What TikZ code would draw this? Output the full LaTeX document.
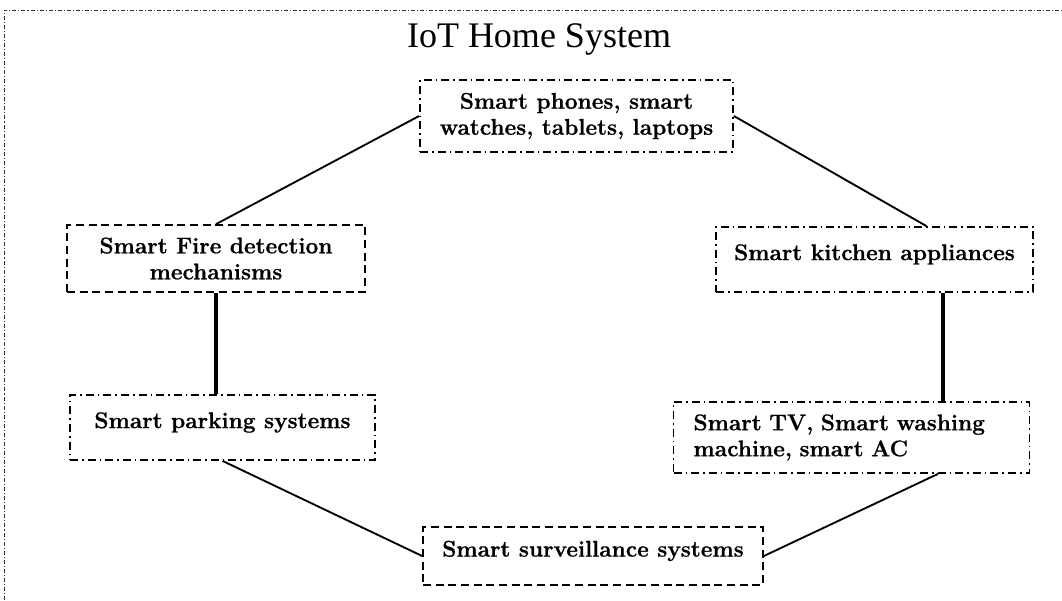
\documentclass[tikz,border=0pt]{standalone}
\usepackage{fontspec}
\setmainfont{Latin Modern Roman}[BoldFeatures={FakeBold=0.8}]
\newfontfamily\titlefont{Liberation Serif}
\usetikzlibrary{calc}
\tikzset{
  boxtext/.style={font=\fontsize{17}{19.5}\selectfont\bfseries, align=center, inner xsep=3pt, inner ysep=3pt},
  dashbox/.style={boxtext, draw, line width=1.3pt, dash pattern=on 6pt off 3.5pt},
  dotbox/.style={boxtext, draw, line width=1.3pt, dash pattern=on 6pt off 3pt on 1.2pt off 3pt},
  oneline/.style={text depth=11pt},
  link/.style={line width=1.4pt},
  thicklink/.style={line width=2.6pt},
  frame/.style={line width=0.6pt, black!80, dash pattern=on 3pt off 1.5pt on 0.8pt off 1.5pt}
}
\begin{document}
\begin{tikzpicture}[x=0.75pt,y=-0.75pt]
\useasboundingbox (0,0) rectangle (1062,600);
\coordinate (fbl) at (4,600);
\coordinate (ftl) at (4,10);
\coordinate (ftr) at (1062,10);
\draw[frame] (fbl) -- (ftl) -- (ftr);

\node[font=\titlefont\fontsize{27}{30}\selectfont] (title) at (539,39) {IoT Home System};

\node[dotbox, minimum width=234.75pt, minimum height=54pt] (top) at (576.5,116)
  {Smart phones, smart\\watches, tablets, laptops};
\node[dashbox, minimum width=223.5pt, minimum height=50.25pt] (fire) at (216,258.5)
  {Smart Fire detection\\mechanisms};
\node[dotbox, oneline, minimum width=237.75pt, minimum height=48.75pt] (kitchen) at (874.5,259.5)
  {Smart kitchen appliances};
\node[dotbox, oneline, minimum width=228.75pt, minimum height=48.75pt] (parking) at (222.5,427.5)
  {Smart parking systems};
\node[dotbox, align=left, text width=237pt, inner xsep=15pt, minimum height=53.25pt] (tv) at (851.5,437.5)
  {Smart TV, Smart washing\\machine, smart AC};
\node[dashbox, oneline, minimum width=255pt, minimum height=43.5pt] (surv) at (593,556)
  {Smart surveillance systems};

\draw[link] (top.west) -- (fire.north);
\draw[link] (top.east) -- ([xshift=39pt]kitchen.north);
\draw[thicklink] (fire.south) -- (fire.south |- parking.north);
\draw[thicklink] ([xshift=51.4pt]kitchen.south) -- ([xshift=51.4pt]kitchen.south |- tv.north);
\draw[link] (parking.south) -- (surv.west);
\draw[link] ([xshift=64.9pt]tv.south) -- (surv.east);
\end{tikzpicture}
\end{document}
